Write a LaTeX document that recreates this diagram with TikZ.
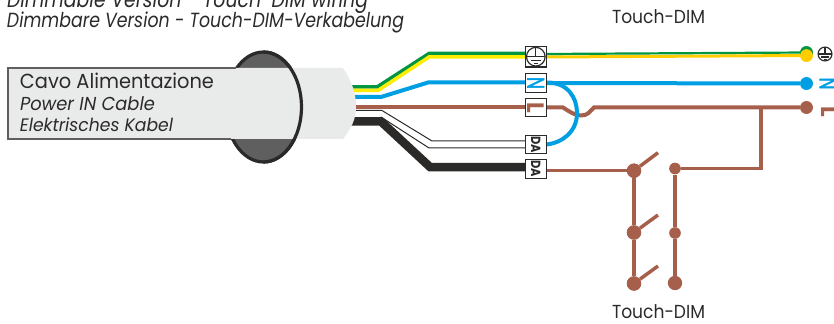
\documentclass[tikz,border=0pt]{standalone}
\usepackage{fontspec}
\setmainfont{Poppins}
\newfontfamily\heavyface[FakeBold=2.5]{Poppins}
\usetikzlibrary{calc}
\definecolor{gr}{HTML}{009640}
\definecolor{ye}{HTML}{FFED00}
\definecolor{go}{HTML}{FFCC00}
\definecolor{bl}{HTML}{009FE3}
\definecolor{br}{HTML}{A65F4A}
\definecolor{bk}{HTML}{2B2A29}
\definecolor{cab}{HTML}{E9EBEA}
\definecolor{dk}{HTML}{5F5F5F}
\tikzset{
  wire/.style={line width=#1*0.75pt,line join=miter},
  term/.style={draw=bk,fill=white,line width=0.9pt,minimum width=15.5pt,minimum height=14pt,inner sep=0pt,outer sep=0pt},
  lab/.style={inner sep=0pt,outer sep=0pt,anchor=base west,text=bk},
  head/.style={inner sep=0pt,outer sep=0pt,anchor=base,text=bk},
  bigdot/.style={circle,fill=br,inner sep=0pt,minimum size=10.75pt},
  smalldot/.style={circle,fill=br,inner sep=0pt,minimum size=8.75pt},
  enddot/.style={circle,inner sep=0pt,minimum size=9.5pt},
}
\newcommand{\fitw}[3]{\scalebox{1}[#2]{\resizebox{\dimexpr#1pt*3/4\relax}{!}{#3}}}
\newcommand{\Nsym}{\rotatebox{90}{\resizebox{9pt}{12.5pt}{\color{bl}\heavyface N}}}
\newcommand{\Lsym}{\rotatebox{-90}{\resizebox{8pt}{12.5pt}{\color{br}\bfseries L}}}
\newcommand{\Dsym}{\rotatebox{-90}{\resizebox{12.5pt}{7pt}{\color{bk}\bfseries DA}}}
\begin{document}
\begin{tikzpicture}[x=0.75pt,y=-0.75pt]
\useasboundingbox (0,0) rectangle (834,324);
\clip (0,0) rectangle (834,324);
% titles
\node[lab] (t1) at (7,8) {\fitw{361}{1.18}{\itshape Dimmable Version - Touch-DIM wiring}};
\node[lab] (t2) at (7,28) {\fitw{397}{1.18}{\itshape Dimmbare Version - Touch-DIM-Verkabelung}};
\node[head] (td1) at (658.5,24) {\fitw{93}{1.1}{Touch-DIM}};
\node[head] (td2) at (658.5,318) {\fitw{93}{1.1}{Touch-DIM}};
% free end points
\coordinate (gs) at (350,87);  \coordinate (g1) at (377,87);  \coordinate (g2) at (429,53.5);
\coordinate (ys) at (350,90.5); \coordinate (y1) at (378,90.5); \coordinate (y2) at (429,57);
\coordinate (bs) at (350,97);  \coordinate (b1) at (381,97);  \coordinate (b2) at (428,82.5);
\coordinate (rs) at (350,107.5);
\coordinate (ws) at (350,110.5);  \coordinate (w1) at (382,110.5); \coordinate (w2) at (432,141);
\coordinate (vs) at (381,117); \coordinate (v2) at (429,148);
\coordinate (ks) at (345,121.5); \coordinate (k1) at (381,121.5); \coordinate (k2) at (430,167);
% terminal anchors
\node[term,minimum height=15.6pt] (E) at (535.8,56.7) {};
\node[term] (N) at (535.8,83) {};
\node[term] (L) at (535.8,107.5) {};
\node[term] (D1) at (535.8,144.5) {};
\node[term] (D2) at (535.8,169) {};
% right end points
\node[enddot,fill=gr] (eg) at (806.5,52.5) {};
\node[enddot,fill=go] (ey) at (806.5,55.5) {};
\node[enddot,fill=bl] (eb) at (806.5,83.5) {};
\node[enddot,fill=br] (er) at (806.5,107.5) {};
% switch dots
\node[bigdot] (s1) at (634,170.7) {};
\node[bigdot] (s2) at (634,232.5) {};
\node[bigdot] (s3) at (634,283.5) {};
\node[smalldot] (r1) at (675,168.5) {};
\node[smalldot] (r2) at (675,233) {};
\node[bigdot] (r3) at (675,283) {};
\coordinate (a1) at (658,152.7);
\coordinate (a2) at (658,215);
\coordinate (a3) at (658,266);
\coordinate (c1) at (761,168.5);
\coordinate (c2) at (761,107.5);
\coordinate (x1) at (563,107.5);
\coordinate (x2) at (594,107.5);
\coordinate (ge) at (546,54);
\coordinate (ye2) at (546,57);
% wires left
\draw[wire=3.5,gr] (gs) -- (g1) -- (g2) -- (E.west |- g2);
\draw[wire=3.5,ye] (ys) -- (y1) -- (y2) -- (E.west |- y2);
\draw[wire=4,bl] (bs) -- (b1) -- (b2) -- (N.west |- b2);
\draw[wire=4,br] (rs) -- (L.west);
\draw[wire=1,bk] (ws) -- (w1) -- (w2) -- (D1.west |- w2);
\draw[wire=1,bk] (vs) -- (v2) -- (D1.west |- v2);
\draw[wire=8.5,bk] (ks) -- (k1) -- (k2) -- (D2.west |- k2);
% wires right
\draw[wire=3,go] (ye2) -- (ey);
\draw[wire=2.2,gr] (ge) -- (eg);
\draw[wire=4,bl] (N.east) -- (eb);
\draw[wire=4,br] (L.east) -- (x1) .. controls (570,112) and (575,115.5) .. (581,115.5) .. controls (588,115.5) and (589,112) .. (x2) -- (er);
\draw[wire=4,bl] (N.east |- b2) .. controls (568,82) and (577,98) .. (577,113) .. controls (577,132) and (562,143) .. (D1.east);
\draw[wire=3.5,br] (D2.east |- s1) -- (s1);
\draw[wire=3.5,br] (r1) -- (c1) -- (c2);
\draw[wire=3.5,br] (s1) -- (s2) -- (s3);
\draw[wire=3.5,br] (r1) -- (r2) -- (r3);
\draw[wire=3.5,br] (s1) -- (a1);
\draw[wire=3.5,br] (s2) -- (a2);
\draw[wire=3.5,br] (s3) -- (a3);
% terminals over wires
\node[term,minimum height=15.6pt] (Eb) at (E) {};
\draw[bk,line width=0.9pt] (E.center) circle (7pt);
\draw[bk,line width=0.8pt] ($(E.center)+(0,-9)$) -- (E.center);
\draw[bk,line width=0.8pt] ($(E.center)+(-9,0)$) -- ($(E.center)+(9,0)$);
\draw[bk,line width=0.8pt] ($(E.center)+(-5,3.5)$) -- ($(E.center)+(5,3.5)$);
\draw[bk,line width=0.8pt] ($(E.center)+(-2,6.5)$) -- ($(E.center)+(2,6.5)$);
\node[term] (Nb) at (N) {\Nsym};
\node[term] (Lb) at (L) {\Lsym};
\node[term] (D1b) at (D1) {\Dsym};
\node[term] (D2b) at (D2) {\Dsym};
% dots over wires
\node[enddot,fill=gr] (eg2) at (eg) {};
\node[enddot,fill=go] (ey2) at (ey) {};
\node[enddot,fill=bl] (eb2) at (eb) {};
\node[enddot,fill=br] (er2) at (er) {};
\node[bigdot] (s1b) at (s1) {};
\node[bigdot] (s2b) at (s2) {};
\node[bigdot] (s3b) at (s3) {};
% symbols at right
\coordinate (ec) at (825,54);
\draw[bk,line width=0.9pt] (ec) circle (5.2pt);
\draw[bk,line width=0.8pt] ($(ec)+(-7,0)$) -- ($(ec)+(7,0)$);
\draw[bk,line width=0.8pt] ($(ec)+(0,-7)$) -- (ec);
\draw[bk,line width=0.8pt] ($(ec)+(-4,3)$) -- ($(ec)+(4,3)$);
\draw[bk,line width=0.8pt] ($(ec)+(-1.5,5.5)$) -- ($(ec)+(1.5,5.5)$);
\node[anchor=center,inner sep=0pt] (nr) at (828,83.5) {\Nsym};
\node[anchor=center,inner sep=0pt] (lr) at (830,112) {\Lsym};
% gland and cable
\coordinate (gc) at (263.5,107);
\fill[dk] (gc) ellipse [x radius=28.5pt,y radius=41.25pt];
\draw[bk,line width=2.4pt] (gc) ellipse [x radius=28.5pt,y radius=41.25pt];
\path[fill=cab] (8,68) -- (343,68) .. controls (351,80) and (356,92) .. (356,107) .. controls (356,120) and (351,128) .. (343,139) -- (8,139) -- cycle;
\draw[draw=dk,line width=1.1pt] (236,68) -- (8,68) -- (8,139) -- (231,139);
\draw[bk,line width=2.4pt] (263.5,52) arc [start angle=90,end angle=-90,x radius=28.5pt,y radius=41.25pt];
% cable labels
\node[lab] (c1t) at (20,89) {\fitw{194}{1.05}{Cavo Alimentazione}};
\node[lab] (c2t) at (20,111) {\fitw{135}{1.05}{\itshape Power IN Cable}};
\node[lab] (c3t) at (20,132) {\fitw{153}{1.05}{\itshape Elektrisches Kabel}};
\end{tikzpicture}
\end{document}
